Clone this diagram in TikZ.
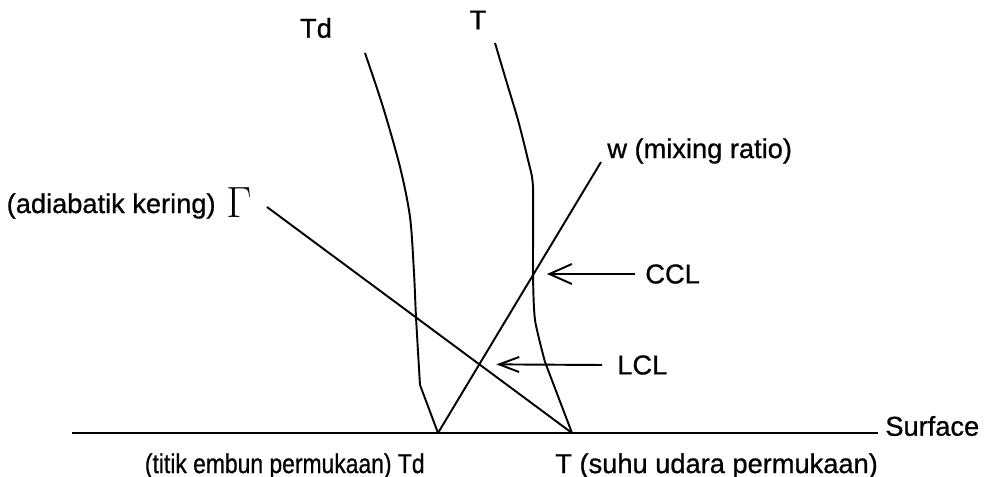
\documentclass[tikz,border=0pt]{standalone}
\usepackage{graphicx}
\usepackage{fontspec}
\setsansfont{Liberation Sans}[FakeBold=0.8]
\usetikzlibrary{arrows.meta, positioning}
\tikzset{
  garis/.style={line width=1.1pt, black, line join=round},
  panah/.style={garis, -{Straight Barb[length=4.5mm, width=4mm, line width=1.1pt]}},
  teks/.style={font=\sffamily\fontsize{15.5}{17}\selectfont, text=black, inner sep=0pt},
}

\begin{document}
\begin{tikzpicture}[x=0.2mm, y=-0.2mm]
    \useasboundingbox (0,0) rectangle (993,477);

    % permukaan
    \coordinate (sfcKiri) at (72,433);
    \coordinate (sfcKanan) at (878,433);
    \coordinate (tdSfc) at (438,433);
    \coordinate (tSfc) at (572,433);
    \draw[garis] (sfcKiri) -- (sfcKanan);
    \node[teks, anchor=west] (labelSurface) at (885,426) {Surface};

    % kurva Td dan T
    \node[teks] (labelTd) at (316,28) {Td};
    \node[teks] (labelT) at (478,20) {T};
    \draw[garis] plot[smooth] coordinates {(365,53) (383,107) (400,167) (410,217)
      (414,273) (416,317) (420,385)} -- (tdSfc);
    \draw[garis] plot[smooth, tension=0.4] coordinates {(495,43) (506,80) (518,120)
      (528,160) (533,187) (533,274) (535,320) (545,362)} -- (tSfc);

    % mixing ratio dan adiabatik kering
    \coordinate (wAtas) at (601,162);
    \coordinate (adiabatAtas) at (267,207);
    \draw[garis] (tdSfc) -- (wAtas);
    \draw[garis] (adiabatAtas) -- (tSfc);
    \node[teks, anchor=west] (labelW) at (607,151) {w (mixing ratio)};
    \node[teks, anchor=east] (labelAdiabat) at (216,206) {(adiabatik kering)};
    \node[font=\fontsize{24}{24}\selectfont, inner sep=0pt, anchor=west]
      (gamma) at (226,203) {$\Gamma$};

    % CCL dan LCL
    \coordinate (ccl) at (533,274);
    \coordinate (lcl) at (intersection of tdSfc--wAtas and adiabatAtas--tSfc);
    \node[teks, anchor=west] (labelCCL) at (645,274) {CCL};
    \node[teks, anchor=west] (labelLCL) at (617,365) {LCL};
    \draw[panah] ([xshift=-2mm]labelCCL.west) -- ([xshift=2.8mm]ccl);
    \draw[panah, -{Straight Barb[length=4mm, width=3mm, line width=1.1pt]}]
      ([xshift=-3mm]labelLCL.west) -- ([xshift=3.4mm]lcl);

    % label permukaan
    \node[teks, anchor=east] (labelTdSfc) at (425,466)
      {\scalebox{0.84}[1]{(titik embun permukaan) Td}};
    \node[teks, anchor=west] (labelTSfc) at (555,466) {T (suhu udara permukaan)};
\end{tikzpicture}
\end{document}
